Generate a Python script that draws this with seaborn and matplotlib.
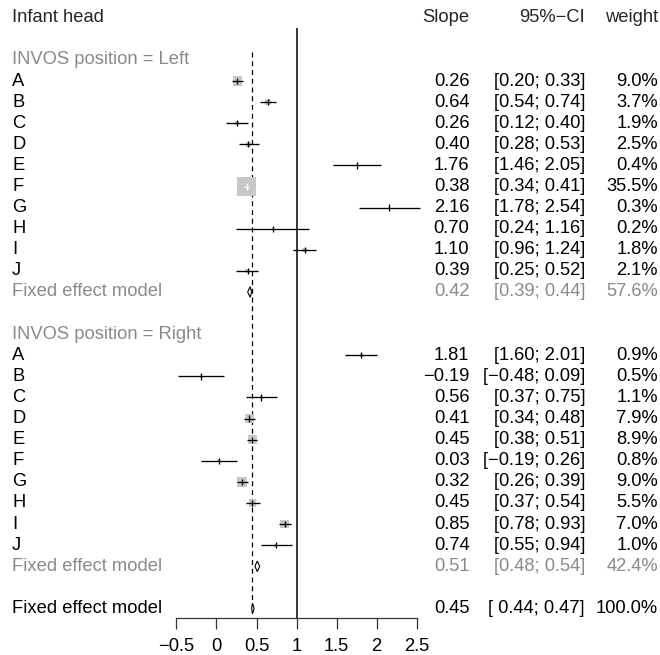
import matplotlib
matplotlib.use("Agg")
import matplotlib.pyplot as plt
import seaborn as sns
import numpy as np
import pandas as pd
from matplotlib.transforms import blended_transform_factory

# ---------------- data ----------------
studies = ["A", "B", "C", "D", "E", "F", "G", "H", "I", "J"]

left_est = [0.26, 0.64, 0.26, 0.40, 1.76, 0.38, 2.16, 0.70, 1.10, 0.39]
left_lo = [0.20, 0.54, 0.12, 0.28, 1.46, 0.34, 1.78, 0.24, 0.96, 0.25]
left_hi = [0.33, 0.74, 0.40, 0.53, 2.05, 0.41, 2.54, 1.16, 1.24, 0.52]
left_w = [9.0, 3.7, 1.9, 2.5, 0.4, 35.5, 0.3, 0.2, 1.8, 2.1]

right_est = [1.81, -0.19, 0.56, 0.41, 0.45, 0.03, 0.32, 0.45, 0.85, 0.74]
right_lo = [1.60, -0.48, 0.37, 0.34, 0.38, -0.19, 0.26, 0.37, 0.78, 0.55]
right_hi = [2.01, 0.09, 0.75, 0.48, 0.51, 0.26, 0.39, 0.54, 0.93, 0.94]
right_w = [0.9, 0.5, 1.1, 7.9, 8.9, 0.8, 9.0, 5.5, 7.0, 1.0]

group_names = ["INVOS position = Left", "INVOS position = Right"]
fixed_est = [0.42, 0.51]
fixed_lo = [0.39, 0.48]
fixed_hi = [0.44, 0.54]
fixed_w = [57.6, 42.4]

overall_est = 0.45
overall_lo = 0.44
overall_hi = 0.47
overall_w = 100.0

xticks = [-0.5, 0, 0.5, 1, 1.5, 2, 2.5]
xtick_labels = ["\u22120.5", "0", "0.5", "1", "1.5", "2", "2.5"]

header = ["Infant head", "Slope", "95%\u2212CI", "weight"]

# ---------------- helpers ----------------
def fmt(v):
    return f"{v:.2f}".replace("-", "\u2212")

def fmt_ci(lo, hi, pad=""):
    return f"[{pad}{fmt(lo)}; {fmt(hi)}]"

# build row table
rows = []
groups = [(left_est, left_lo, left_hi, left_w), (right_est, right_lo, right_hi, right_w)]
group_start = [0, 13]
for g, (e, lo, hi, w) in enumerate(groups):
    y0 = group_start[g]
    rows.append(dict(y=y0 - 1, label=group_names[g], kind="header"))
    for i, s in enumerate(studies):
        rows.append(dict(y=y0 + i, label=s, est=e[i], lo=lo[i], hi=hi[i], w=w[i], kind="study"))
    rows.append(dict(y=y0 + 10, label="Fixed effect model", est=fixed_est[g], lo=fixed_lo[g],
                     hi=fixed_hi[g], w=fixed_w[g], kind="fixed"))
rows.append(dict(y=25, label="Fixed effect model", est=overall_est, lo=overall_lo,
                 hi=overall_hi, w=overall_w, kind="overall"))
df = pd.DataFrame(rows)

# ---------------- figure ----------------
sns.set_theme(style="white")
plt.rcParams["font.family"] = ["Liberation Sans", "DejaVu Sans"]

W, H = 660, 655
fig = plt.figure(figsize=(6.6, 6.55), dpi=100)
fig.patch.set_facecolor("white")
row0_px, row_h = 81.0, 21.1
top_px, axis_px = 28.0, 618.0
x0_px, xw_px = 176.5, 240.0
ax = fig.add_axes([x0_px / W, 1 - axis_px / H, xw_px / W, (axis_px - top_px) / H])
ax.set_facecolor("none")
ax.set_xlim(-0.5, 2.5)
ax.set_ylim((axis_px - row0_px) / row_h, (top_px - row0_px) / row_h)

px_per_unit = xw_px / 3.0
fs = 13.2
gray_txt = "#8a8a8a"
box_col = "#c8c8c8"

# reference lines
ax.vlines(1, (top_px - row0_px) / row_h, (axis_px - row0_px) / row_h, color="black", lw=1.1, zorder=1)
ax.vlines(overall_est, -1.37, 25.2, color="black", lw=0.9, linestyles=(0, (4, 3)), zorder=1)

# squares
st = df[df.kind == "study"].copy()
side_px = 19.0 * np.sqrt(st["w"].to_numpy() / 35.5)
st["s"] = (side_px * 0.72) ** 2
sns.scatterplot(data=st, x="est", y="y", s=st["s"].to_numpy(), marker="s", color=box_col,
                edgecolor="none", linewidth=0, legend=False, ax=ax, zorder=2)

# CI lines and estimate ticks
for (_, r), sp in zip(st.iterrows(), side_px):
    half = sp / 2 / px_per_unit
    inside = (r.lo >= r.est - half) and (r.hi <= r.est + half)
    c = "white" if inside else "black"
    ax.hlines(r.y, r.lo, r.hi, color=c, lw=0.95, zorder=3, clip_on=False)
    ax.vlines(r.est, r.y - 0.15, r.y + 0.15, color=c, lw=0.95, zorder=3, clip_on=False)

# diamonds
for _, r in df[df.kind.isin(["fixed", "overall"])].iterrows():
    ax.fill([r.lo, r.est, r.hi, r.est], [r.y, r.y - 0.25, r.y, r.y + 0.25],
            facecolor="white", edgecolor="black", lw=0.8, zorder=3)

# axis styling
for sp_name in ["top", "left", "right"]:
    ax.spines[sp_name].set_visible(False)
ax.spines["bottom"].set_color("#333333")
ax.spines["bottom"].set_linewidth(0.9)
ax.spines["bottom"].set_bounds(-0.5, 2.5)
ax.set_xticks(xticks)
ax.set_xticklabels(xtick_labels)
ax.set_yticks([])
ax.tick_params(axis="x", direction="out", length=8, width=0.9, color="#333333",
               labelsize=fs, pad=6.5, bottom=True, labelcolor="black")
ax.set_xlabel("")
ax.set_ylabel("")

# text columns
tr = blended_transform_factory(fig.transFigure, ax.transData)
col_label = 12 / W
col_slope = 469.5 / W
col_ci = 585 / W
col_w = 658 / W
hy = (17.7 - row0_px) / row_h
ax.text(col_label, hy, header[0], transform=tr, ha="left", va="center", fontsize=fs)
ax.text(col_slope, hy, header[1], transform=tr, ha="right", va="center", fontsize=fs)
ax.text(col_ci, hy, header[2], transform=tr, ha="right", va="center", fontsize=fs)
ax.text(col_w, hy, header[3], transform=tr, ha="right", va="center", fontsize=fs)

for _, r in df.iterrows():
    col = gray_txt if r.kind in ("header", "fixed") else "black"
    ax.text(col_label, r.y, r.label, transform=tr, ha="left", va="center", fontsize=fs, color=col)
    if r.kind == "header":
        continue
    pad = " " if r.kind == "overall" else ""
    ax.text(col_slope, r.y, fmt(r.est), transform=tr, ha="right", va="center", fontsize=fs, color=col)
    ax.text(col_ci, r.y, fmt_ci(r.lo, r.hi, pad), transform=tr, ha="right", va="center", fontsize=fs, color=col)
    ax.text(col_w, r.y, f"{r.w:.1f}%", transform=tr, ha="right", va="center", fontsize=fs, color=col)

fig.savefig("out.png", dpi=100, facecolor="white")
